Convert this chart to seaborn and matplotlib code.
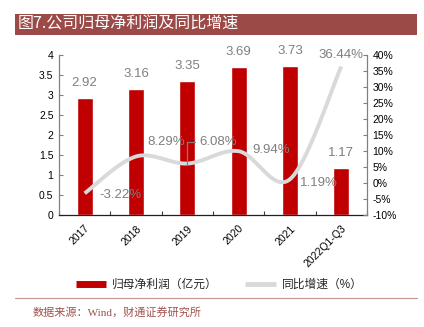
import numpy as np
import pandas as pd
import matplotlib
matplotlib.use("Agg")
import matplotlib.pyplot as plt
import seaborn as sns
from matplotlib.lines import Line2D
from matplotlib.patches import Rectangle

# Net profit attributable to parent (100m CNY) and YoY growth (%)
categories = ["2017", "2018", "2019", "2020", "2021", "2022Q1-Q3"]
profit = [2.92, 3.16, 3.35, 3.69, 3.73, 1.17]
growth = [-3.22, 8.29, 6.08, 9.94, 1.19, 36.44]
left_ticks = [0, 0.5, 1, 1.5, 2, 2.5, 3, 3.5, 4]
right_ticks = [-10, -5, 0, 5, 10, 15, 20, 25, 30, 35, 40]

# label offsets (pixels) for the growth labels
growth_label_offsets = [(15, -2), (11, 14), (12, 22), (14, 1), (10, -4), (0, 11)]
growth_label_ha = ["left", "left", "left", "left", "left", "center"]

BAR_RED = "#C00000"
LINE_GRAY = "#D9D9D9"
LABEL_GRAY = "#7F7F7F"
BRAND = "#9B4A47"

sns.set_theme(style="white")
plt.rcParams["font.family"] = ["Liberation Sans", "Noto Sans CJK SC", "DejaVu Sans"]


def smooth_curve(xs, ys, n=40):
    """Bezier smoothing through the points (control points at 1/6 of neighbour chord)."""
    pts = np.column_stack([xs, ys]).astype(float)
    out = []
    for i in range(len(pts) - 1):
        p0 = pts[max(i - 1, 0)]
        p1 = pts[i]
        p2 = pts[i + 1]
        p3 = pts[min(i + 2, len(pts) - 1)]
        c1 = p1 + (p2 - p0) / 6
        c2 = p2 - (p3 - p1) / 6
        t = np.linspace(0, 1, n)[:, None]
        seg = (1 - t) ** 3 * p1 + 3 * (1 - t) ** 2 * t * c1 + 3 * (1 - t) * t ** 2 * c2 + t ** 3 * p2
        out.append(seg if i == 0 else seg[1:])
    return np.vstack(out)


W, H = 424, 327
fig = plt.figure(figsize=(W / 100, H / 100), dpi=100)
fig.patch.set_facecolor("white")
ax = fig.add_axes([59 / W, 1 - 215 / H, (367 - 59) / W, (215 - 55) / H])

df = pd.DataFrame({"period": categories, "profit": profit})
sns.barplot(data=df, x="period", y="profit", color=BAR_RED, saturation=1,
            width=0.31, ax=ax)
ax.set_xlim(-0.5, len(categories) - 0.5)
ax.set_ylim(0, 4)
ax.set_yticks(left_ticks)
ax.set_yticklabels([f"{v:g}" for v in left_ticks])
ax.set_xlabel("")
ax.set_ylabel("")

for i, v in enumerate(profit):
    ax.annotate(f"{v:.2f}", (i, v), xytext=(0, 9), textcoords="offset pixels",
                ha="center", va="bottom", fontsize=9.5, color=LABEL_GRAY)

ax2 = ax.twinx()
ax2.set_ylim(-10, 40)
ax2.set_yticks(right_ticks)
ax2.set_yticklabels([f"{v}%" for v in right_ticks])

curve = smooth_curve(np.arange(len(growth)), growth)
sns.lineplot(x=curve[:, 0], y=curve[:, 1], sort=False, color=LINE_GRAY,
             linewidth=2.8, ax=ax2, solid_capstyle="butt")

for i, v in enumerate(growth):
    dx, dy = growth_label_offsets[i]
    ax2.annotate(f"{v:.2f}%", (i, v), xytext=(dx, dy), textcoords="offset pixels",
                 ha=growth_label_ha[i], va="center", fontsize=9.5, color=LABEL_GRAY)

# leader line for the 2019 label
ax2.annotate("", (2, growth[2]), xytext=(8, 22), textcoords="offset pixels",
             arrowprops=dict(arrowstyle="-", color=LABEL_GRAY, lw=0.9,
                             connectionstyle="angle,angleA=0,angleB=90,rad=0",
                             shrinkA=0, shrinkB=0))

# category axis: ticks on category boundaries
ax.set_xticks(range(len(categories)))
ax.set_xticklabels(categories, rotation=45, ha="right", rotation_mode="anchor",
                   fontsize=7.5, color="black")
ax.set_xticks(np.arange(-0.5, len(categories), 1), minor=True)
ax.tick_params(axis="x", which="major", length=0, pad=6)
ax.tick_params(axis="x", which="minor", direction="in", length=3, width=0.8,
               color="#404040", bottom=True)
ax.tick_params(axis="y", direction="in", length=3, width=0.8, color="#808080",
               labelsize=7.5, labelcolor="black", pad=4, left=True)
ax2.tick_params(axis="y", direction="in", length=3, width=0.8, color="#808080",
                labelsize=7.5, labelcolor="black", pad=4, right=True)

for a in (ax, ax2):
    a.spines["top"].set_visible(False)
    a.grid(False)
ax.spines["right"].set_visible(False)
ax.spines["left"].set_color("#808080")
ax.spines["bottom"].set_color("#202020")
ax2.spines["left"].set_visible(False)
ax2.spines["bottom"].set_visible(False)
ax2.spines["right"].set_color("#808080")
ax2.set_ylabel("")
for a in (ax, ax2):
    for s in a.spines.values():
        s.set_linewidth(0.9)

# legend
handles = [Line2D([], [], color=BAR_RED, lw=5, solid_capstyle="butt"),
           Line2D([], [], color=LINE_GRAY, lw=3.5, solid_capstyle="butt")]
fig.legend(handles, ["归母净利润（亿元）", "同比增速（%）"], loc="center",
           bbox_to_anchor=(219 / W, 1 - 285 / H), ncol=2, frameon=False,
           fontsize=8.5, handlelength=2.6, handletextpad=0.5, columnspacing=2.3)

# title bar
fig.add_artist(Rectangle((15 / W, 1 - 35 / H), 402 / W, 21 / H,
                         transform=fig.transFigure, facecolor=BRAND, edgecolor="none"))
fig.text(18 / W, 1 - 24.5 / H, "图7.公司归母净利润及同比增速", color="white",
         fontsize=11.5, va="center", ha="left",
         family=["Noto Sans CJK SC", "DejaVu Sans"])

# footer
fig.add_artist(Line2D([15 / W, 417 / W], [1 - 298 / H, 1 - 298 / H],
                      transform=fig.transFigure, color="#C89A98", lw=0.9))
fig.text(33 / W, 1 - 312 / H, "数据来源：Wind，财通证券研究所", color="#A0524D",
         fontsize=8, va="center", ha="left",
         family=["Liberation Serif", "Noto Sans CJK SC", "DejaVu Sans"])

fig.savefig("out.png", dpi=100)
